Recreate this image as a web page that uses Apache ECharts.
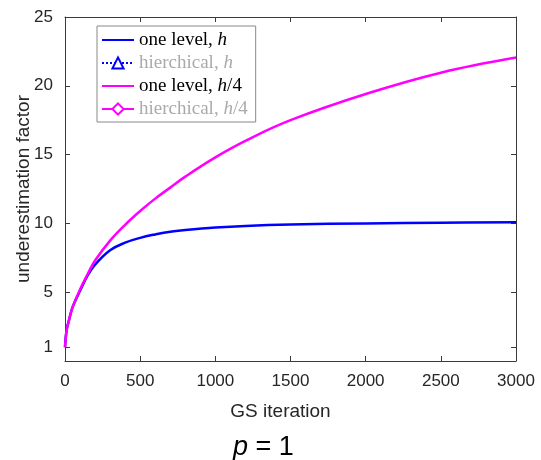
<!DOCTYPE html>
<html>
<head>
<meta charset="utf-8">
<script src="https://cdn.jsdelivr.net/npm/echarts@6/dist/echarts.min.js"></script>
<style>html,body{margin:0;padding:0;background:#fff;}#c{width:541px;height:460px;}</style>
</head>
<body>
<div id="c"></div>
<script>
var iterations = [0, 10, 25, 50, 100, 150, 200, 300, 400, 500, 600, 700, 800, 1000, 1200, 1500, 2000, 2500, 3000];
var oneLevelH = [1, 2.2, 2.9, 3.9, 5.1, 6.2, 7.0, 8.05, 8.6, 8.95, 9.2, 9.4, 9.52, 9.7, 9.82, 9.92, 10.0, 10.05, 10.08];
var oneLevelH4 = [1, 2.2, 2.9, 3.9, 5.2, 6.3, 7.3, 8.75, 9.9, 10.9, 11.8, 12.6, 13.4, 14.8, 16.0, 17.5, 19.4, 20.95, 22.05];
var hierH = [];
var hierH4 = [];
var yTicks = [1, 5, 10, 15, 20, 25];
var seriesNames = ['one level, h', 'hierchical, h', 'one level, h/4', 'hierchical, h/4'];

function pairs(xs, ys) { return ys.map(function (v, i) { return [xs[i], v]; }); }

var axisColor = '#3a3a3a';
var sans = 'Liberation Sans, Arial, sans-serif';
var serif = 'Liberation Serif, serif';
var labelStyle = { color: '#262626', fontSize: 17, fontFamily: sans };
var hidden = { color: 'rgba(0,0,0,0)', borderColor: 'rgba(0,0,0,0)', borderWidth: 0 };

var chart = echarts.init(document.getElementById('c'), null, { renderer: 'canvas' });
chart.setOption({
  animation: false,
  backgroundColor: '#fff',
  grid: { left: 65, right: 25, top: 17, bottom: 99, containLabel: false },
  title: {
    text: '{i|p} = 1',
    left: 228, top: 429,
    textStyle: {
      fontSize: 27, color: '#000', fontWeight: 'normal', fontFamily: sans,
      rich: { i: { fontStyle: 'italic', fontSize: 27, fontFamily: sans, color: '#000' } }
    }
  },
  legend: {
    orient: 'vertical',
    left: 97, top: 26,
    padding: [3, 8, 2, 4],
    itemGap: 1,
    itemWidth: 32, itemHeight: 14,
    backgroundColor: '#fff',
    borderColor: '#888', borderWidth: 1,
    selectedMode: false,
    data: [
      { name: seriesNames[0], itemStyle: hidden },
      { name: seriesNames[1] },
      { name: seriesNames[2], itemStyle: hidden },
      { name: seriesNames[3] }
    ],
    formatter: function (name) {
      var gray = name.indexOf('hierchical') === 0;
      var k = gray ? 'g' : 'b';
      var parts = name.split(', ');
      var tail = parts[1];
      var s = '{' + k + '|' + parts[0] + ', }{' + k + 'i|h}';
      if (tail.length > 1) s += '{' + k + '|' + tail.slice(1) + '}';
      return s;
    },
    textStyle: {
      fontSize: 19, fontFamily: serif, lineHeight: 22,
      rich: {
        b: { color: '#000', fontSize: 19, fontFamily: serif, lineHeight: 22 },
        bi: { color: '#000', fontSize: 19, fontStyle: 'italic', fontFamily: serif, lineHeight: 22 },
        g: { color: '#aaa', fontSize: 19, fontFamily: serif, lineHeight: 22 },
        gi: { color: '#aaa', fontSize: 19, fontStyle: 'italic', fontFamily: serif, lineHeight: 22 }
      }
    }
  },
  xAxis: [{
    type: 'value', min: 0, max: 3000, interval: 500,
    name: 'GS iteration', nameLocation: 'middle', nameGap: 41, nameMoveOverlap: false,
    nameTextStyle: { color: '#262626', fontSize: 19, fontFamily: sans, padding: [0, 20, 0, 0] },
    axisLine: { show: true, onZero: false, lineStyle: { color: axisColor, width: 1 } },
    axisTick: { show: true, inside: true, length: 5, lineStyle: { color: axisColor } },
    axisLabel: Object.assign({ margin: 12, formatter: function (v) { return String(v); } }, labelStyle),
    splitLine: { show: false }
  }, {
    type: 'value', min: 0, max: 3000, interval: 500, position: 'top',
    axisLine: { show: true, onZero: false, lineStyle: { color: axisColor, width: 1 } },
    axisTick: { show: true, inside: true, length: 5, lineStyle: { color: axisColor } },
    axisLabel: { show: false },
    splitLine: { show: false }
  }],
  yAxis: [{
    type: 'value', min: 0, max: 25,
    name: 'underestimation factor', nameLocation: 'middle', nameGap: 32, nameMoveOverlap: false,
    nameTextStyle: { color: '#262626', fontSize: 19, fontFamily: sans },
    axisLine: { show: true, onZero: false, lineStyle: { color: axisColor, width: 1 } },
    axisTick: { show: true, inside: true, length: 5, customValues: yTicks, lineStyle: { color: axisColor } },
    axisLabel: Object.assign({ margin: 12, customValues: yTicks }, labelStyle),
    splitLine: { show: false }
  }, {
    type: 'value', min: 0, max: 25, position: 'right',
    axisLine: { show: true, onZero: false, lineStyle: { color: axisColor, width: 1 } },
    axisTick: { show: true, inside: true, length: 5, customValues: yTicks, lineStyle: { color: axisColor } },
    axisLabel: { show: false },
    splitLine: { show: false }
  }],
  series: [{
    name: seriesNames[0], type: 'line', smooth: 0.4, symbol: 'circle', showSymbol: false,
    data: pairs(iterations, oneLevelH),
    lineStyle: { color: '#0000ff', width: 2.5 }, itemStyle: { color: '#0000ff' }, z: 3
  }, {
    name: seriesNames[1], type: 'line', symbol: 'triangle', symbolSize: 9,
    data: hierH,
    lineStyle: { color: '#0000ff', width: 2.5, type: 'dotted' },
    itemStyle: { color: '#fff', borderColor: '#0000ff', borderWidth: 2 }
  }, {
    name: seriesNames[2], type: 'line', smooth: 0.4, symbol: 'circle', showSymbol: false,
    data: pairs(iterations, oneLevelH4),
    lineStyle: { color: '#ff00ff', width: 2.5 }, itemStyle: { color: '#ff00ff' }, z: 4
  }, {
    name: seriesNames[3], type: 'line', symbol: 'diamond', symbolSize: 9,
    data: hierH4,
    lineStyle: { color: '#ff00ff', width: 2.5 },
    itemStyle: { color: '#fff', borderColor: '#ff00ff', borderWidth: 2 }
  }]
});
</script>
</body>
</html>
